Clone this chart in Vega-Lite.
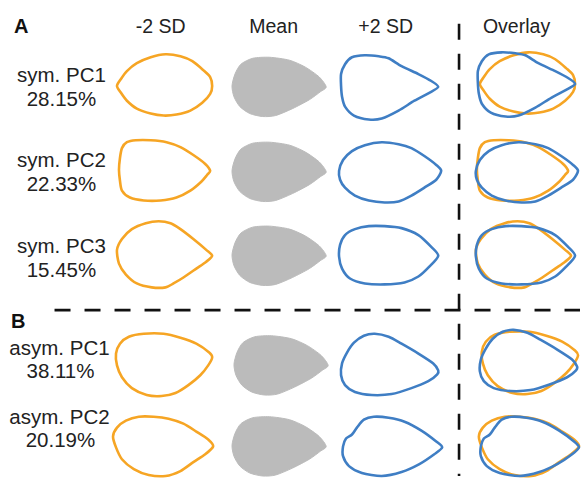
{
  "$schema": "https://vega.github.io/schema/vega-lite/v6.json",
  "width": 585,
  "height": 482,
  "autosize": {"type": "fit", "contains": "padding"},
  "padding": 0,
  "background": "white",
  "config": {"view": {"stroke": null}, "axis": {"disable": true}},
  "datasets": {
    "mean": [
      {"s":"sym. PC1","i":0,"x":329,"y":88},{"s":"sym. PC1","i":1,"x":322,"y":78},{"s":"sym. PC1","i":2,"x":308,"y":68},{"s":"sym. PC1","i":3,"x":292,"y":61},{"s":"sym. PC1","i":4,"x":272,"y":58},{"s":"sym. PC1","i":5,"x":255,"y":59},{"s":"sym. PC1","i":6,"x":243,"y":65},{"s":"sym. PC1","i":7,"x":237,"y":75},{"s":"sym. PC1","i":8,"x":234,"y":87},{"s":"sym. PC1","i":9,"x":236,"y":98},{"s":"sym. PC1","i":10,"x":242,"y":108},{"s":"sym. PC1","i":11,"x":252,"y":115},{"s":"sym. PC1","i":12,"x":265,"y":118},{"s":"sym. PC1","i":13,"x":278,"y":117},{"s":"sym. PC1","i":14,"x":295,"y":110},{"s":"sym. PC1","i":15,"x":312,"y":101},{"s":"sym. PC1","i":16,"x":323,"y":93},
      {"s":"sym. PC2","i":0,"x":329,"y":174},{"s":"sym. PC2","i":1,"x":322,"y":164},{"s":"sym. PC2","i":2,"x":308,"y":154},{"s":"sym. PC2","i":3,"x":292,"y":147},{"s":"sym. PC2","i":4,"x":272,"y":144},{"s":"sym. PC2","i":5,"x":255,"y":145},{"s":"sym. PC2","i":6,"x":243,"y":151},{"s":"sym. PC2","i":7,"x":237,"y":161},{"s":"sym. PC2","i":8,"x":234,"y":173},{"s":"sym. PC2","i":9,"x":236,"y":184},{"s":"sym. PC2","i":10,"x":242,"y":194},{"s":"sym. PC2","i":11,"x":252,"y":201},{"s":"sym. PC2","i":12,"x":265,"y":204},{"s":"sym. PC2","i":13,"x":278,"y":203},{"s":"sym. PC2","i":14,"x":295,"y":196},{"s":"sym. PC2","i":15,"x":312,"y":187},{"s":"sym. PC2","i":16,"x":323,"y":179},
      {"s":"sym. PC3","i":0,"x":329,"y":259},{"s":"sym. PC3","i":1,"x":322,"y":249},{"s":"sym. PC3","i":2,"x":308,"y":239},{"s":"sym. PC3","i":3,"x":292,"y":232},{"s":"sym. PC3","i":4,"x":272,"y":229},{"s":"sym. PC3","i":5,"x":255,"y":230},{"s":"sym. PC3","i":6,"x":243,"y":236},{"s":"sym. PC3","i":7,"x":237,"y":246},{"s":"sym. PC3","i":8,"x":234,"y":258},{"s":"sym. PC3","i":9,"x":236,"y":269},{"s":"sym. PC3","i":10,"x":242,"y":279},{"s":"sym. PC3","i":11,"x":252,"y":286},{"s":"sym. PC3","i":12,"x":265,"y":289},{"s":"sym. PC3","i":13,"x":278,"y":288},{"s":"sym. PC3","i":14,"x":295,"y":281},{"s":"sym. PC3","i":15,"x":312,"y":272},{"s":"sym. PC3","i":16,"x":323,"y":264},
      {"s":"asym. PC1","i":0,"x":331,"y":370},{"s":"asym. PC1","i":1,"x":324,"y":360},{"s":"asym. PC1","i":2,"x":310,"y":350},{"s":"asym. PC1","i":3,"x":294,"y":343},{"s":"asym. PC1","i":4,"x":274,"y":340},{"s":"asym. PC1","i":5,"x":257,"y":341},{"s":"asym. PC1","i":6,"x":245,"y":347},{"s":"asym. PC1","i":7,"x":239,"y":357},{"s":"asym. PC1","i":8,"x":236,"y":369},{"s":"asym. PC1","i":9,"x":238,"y":380},{"s":"asym. PC1","i":10,"x":244,"y":390},{"s":"asym. PC1","i":11,"x":254,"y":397},{"s":"asym. PC1","i":12,"x":267,"y":400},{"s":"asym. PC1","i":13,"x":280,"y":399},{"s":"asym. PC1","i":14,"x":297,"y":392},{"s":"asym. PC1","i":15,"x":314,"y":383},{"s":"asym. PC1","i":16,"x":325,"y":375},
      {"s":"asym. PC2","i":0,"x":329,"y":452},{"s":"asym. PC2","i":1,"x":322,"y":442},{"s":"asym. PC2","i":2,"x":308,"y":432},{"s":"asym. PC2","i":3,"x":292,"y":425},{"s":"asym. PC2","i":4,"x":272,"y":422},{"s":"asym. PC2","i":5,"x":255,"y":423},{"s":"asym. PC2","i":6,"x":243,"y":429},{"s":"asym. PC2","i":7,"x":237,"y":439},{"s":"asym. PC2","i":8,"x":234,"y":451},{"s":"asym. PC2","i":9,"x":236,"y":462},{"s":"asym. PC2","i":10,"x":242,"y":472},{"s":"asym. PC2","i":11,"x":252,"y":479},{"s":"asym. PC2","i":12,"x":265,"y":482},{"s":"asym. PC2","i":13,"x":278,"y":481},{"s":"asym. PC2","i":14,"x":295,"y":474},{"s":"asym. PC2","i":15,"x":312,"y":465},{"s":"asym. PC2","i":16,"x":323,"y":457}
    ],
    "minus": [
      {"s":"sym. PC1","i":0,"x":118,"y":87},{"s":"sym. PC1","i":1,"x":122,"y":80},{"s":"sym. PC1","i":2,"x":128,"y":72},{"s":"sym. PC1","i":3,"x":138,"y":64},{"s":"sym. PC1","i":4,"x":152,"y":58},{"s":"sym. PC1","i":5,"x":167,"y":55},{"s":"sym. PC1","i":6,"x":182,"y":57},{"s":"sym. PC1","i":7,"x":194,"y":62},{"s":"sym. PC1","i":8,"x":205,"y":71},{"s":"sym. PC1","i":9,"x":212,"y":78},{"s":"sym. PC1","i":10,"x":214,"y":87},{"s":"sym. PC1","i":11,"x":212,"y":95},{"s":"sym. PC1","i":12,"x":204,"y":104},{"s":"sym. PC1","i":13,"x":192,"y":112},{"s":"sym. PC1","i":14,"x":178,"y":116},{"s":"sym. PC1","i":15,"x":165,"y":117},{"s":"sym. PC1","i":16,"x":152,"y":115},{"s":"sym. PC1","i":17,"x":138,"y":110},{"s":"sym. PC1","i":18,"x":128,"y":102},{"s":"sym. PC1","i":19,"x":122,"y":94},
      {"s":"sym. PC2","i":0,"x":212,"y":173},{"s":"sym. PC2","i":1,"x":207,"y":166},{"s":"sym. PC2","i":2,"x":195,"y":157},{"s":"sym. PC2","i":3,"x":182,"y":149},{"s":"sym. PC2","i":4,"x":168,"y":144},{"s":"sym. PC2","i":5,"x":152,"y":142},{"s":"sym. PC2","i":6,"x":137,"y":142},{"s":"sym. PC2","i":7,"x":128,"y":144},{"s":"sym. PC2","i":8,"x":123,"y":150},{"s":"sym. PC2","i":9,"x":121,"y":160},{"s":"sym. PC2","i":10,"x":120,"y":172},{"s":"sym. PC2","i":11,"x":121,"y":183},{"s":"sym. PC2","i":12,"x":123,"y":193},{"s":"sym. PC2","i":13,"x":131,"y":200},{"s":"sym. PC2","i":14,"x":145,"y":203},{"s":"sym. PC2","i":15,"x":162,"y":203},{"s":"sym. PC2","i":16,"x":178,"y":200},{"s":"sym. PC2","i":17,"x":192,"y":193},{"s":"sym. PC2","i":18,"x":203,"y":184},{"s":"sym. PC2","i":19,"x":209,"y":177},
      {"s":"sym. PC3","i":0,"x":214,"y":259},{"s":"sym. PC3","i":1,"x":208,"y":253},{"s":"sym. PC3","i":2,"x":195,"y":242},{"s":"sym. PC3","i":3,"x":182,"y":232},{"s":"sym. PC3","i":4,"x":172,"y":226},{"s":"sym. PC3","i":5,"x":160,"y":224},{"s":"sym. PC3","i":6,"x":147,"y":226},{"s":"sym. PC3","i":7,"x":133,"y":232},{"s":"sym. PC3","i":8,"x":123,"y":242},{"s":"sym. PC3","i":9,"x":118,"y":253},{"s":"sym. PC3","i":10,"x":120,"y":267},{"s":"sym. PC3","i":11,"x":127,"y":278},{"s":"sym. PC3","i":12,"x":138,"y":287},{"s":"sym. PC3","i":13,"x":153,"y":291},{"s":"sym. PC3","i":14,"x":167,"y":291},{"s":"sym. PC3","i":15,"x":175,"y":287},{"s":"sym. PC3","i":16,"x":185,"y":281},{"s":"sym. PC3","i":17,"x":198,"y":272},{"s":"sym. PC3","i":18,"x":208,"y":265},
      {"s":"asym. PC1","i":0,"x":214,"y":362},{"s":"asym. PC1","i":1,"x":211,"y":357},{"s":"asym. PC1","i":2,"x":198,"y":348},{"s":"asym. PC1","i":3,"x":182,"y":342},{"s":"asym. PC1","i":4,"x":165,"y":338},{"s":"asym. PC1","i":5,"x":145,"y":338},{"s":"asym. PC1","i":6,"x":130,"y":341},{"s":"asym. PC1","i":7,"x":121,"y":348},{"s":"asym. PC1","i":8,"x":117,"y":358},{"s":"asym. PC1","i":9,"x":118,"y":370},{"s":"asym. PC1","i":10,"x":123,"y":382},{"s":"asym. PC1","i":11,"x":133,"y":393},{"s":"asym. PC1","i":12,"x":148,"y":400},{"s":"asym. PC1","i":13,"x":163,"y":401},{"s":"asym. PC1","i":14,"x":177,"y":398},{"s":"asym. PC1","i":15,"x":190,"y":390},{"s":"asym. PC1","i":16,"x":202,"y":380},{"s":"asym. PC1","i":17,"x":210,"y":370},
      {"s":"asym. PC2","i":0,"x":215,"y":452},{"s":"asym. PC2","i":1,"x":210,"y":445},{"s":"asym. PC2","i":2,"x":198,"y":437},{"s":"asym. PC2","i":3,"x":185,"y":429},{"s":"asym. PC2","i":4,"x":170,"y":424},{"s":"asym. PC2","i":5,"x":155,"y":422},{"s":"asym. PC2","i":6,"x":140,"y":422},{"s":"asym. PC2","i":7,"x":127,"y":426},{"s":"asym. PC2","i":8,"x":118,"y":433},{"s":"asym. PC2","i":9,"x":114,"y":442},{"s":"asym. PC2","i":10,"x":117,"y":453},{"s":"asym. PC2","i":11,"x":123,"y":465},{"s":"asym. PC2","i":12,"x":135,"y":475},{"s":"asym. PC2","i":13,"x":150,"y":481},{"s":"asym. PC2","i":14,"x":167,"y":482},{"s":"asym. PC2","i":15,"x":182,"y":477},{"s":"asym. PC2","i":16,"x":195,"y":468},{"s":"asym. PC2","i":17,"x":207,"y":460},
      {"s":"ov sym. PC1","i":0,"x":484,"y":85},{"s":"ov sym. PC1","i":1,"x":488,"y":78},{"s":"ov sym. PC1","i":2,"x":494,"y":70},{"s":"ov sym. PC1","i":3,"x":504,"y":62},{"s":"ov sym. PC1","i":4,"x":518,"y":56},{"s":"ov sym. PC1","i":5,"x":533,"y":53},{"s":"ov sym. PC1","i":6,"x":548,"y":55},{"s":"ov sym. PC1","i":7,"x":560,"y":60},{"s":"ov sym. PC1","i":8,"x":571,"y":69},{"s":"ov sym. PC1","i":9,"x":578,"y":76},{"s":"ov sym. PC1","i":10,"x":580,"y":85},{"s":"ov sym. PC1","i":11,"x":578,"y":93},{"s":"ov sym. PC1","i":12,"x":570,"y":102},{"s":"ov sym. PC1","i":13,"x":558,"y":110},{"s":"ov sym. PC1","i":14,"x":544,"y":114},{"s":"ov sym. PC1","i":15,"x":531,"y":115},{"s":"ov sym. PC1","i":16,"x":518,"y":113},{"s":"ov sym. PC1","i":17,"x":504,"y":108},{"s":"ov sym. PC1","i":18,"x":494,"y":100},{"s":"ov sym. PC1","i":19,"x":488,"y":92},
      {"s":"ov sym. PC2","i":0,"x":573,"y":173},{"s":"ov sym. PC2","i":1,"x":568,"y":166},{"s":"ov sym. PC2","i":2,"x":556,"y":157},{"s":"ov sym. PC2","i":3,"x":543,"y":149},{"s":"ov sym. PC2","i":4,"x":529,"y":144},{"s":"ov sym. PC2","i":5,"x":513,"y":142},{"s":"ov sym. PC2","i":6,"x":498,"y":142},{"s":"ov sym. PC2","i":7,"x":489,"y":144},{"s":"ov sym. PC2","i":8,"x":484,"y":150},{"s":"ov sym. PC2","i":9,"x":482,"y":160},{"s":"ov sym. PC2","i":10,"x":481,"y":172},{"s":"ov sym. PC2","i":11,"x":482,"y":183},{"s":"ov sym. PC2","i":12,"x":484,"y":193},{"s":"ov sym. PC2","i":13,"x":492,"y":200},{"s":"ov sym. PC2","i":14,"x":506,"y":203},{"s":"ov sym. PC2","i":15,"x":523,"y":203},{"s":"ov sym. PC2","i":16,"x":539,"y":200},{"s":"ov sym. PC2","i":17,"x":553,"y":193},{"s":"ov sym. PC2","i":18,"x":564,"y":184},{"s":"ov sym. PC2","i":19,"x":570,"y":177},
      {"s":"ov sym. PC3","i":0,"x":576,"y":259},{"s":"ov sym. PC3","i":1,"x":570,"y":253},{"s":"ov sym. PC3","i":2,"x":557,"y":242},{"s":"ov sym. PC3","i":3,"x":544,"y":232},{"s":"ov sym. PC3","i":4,"x":534,"y":226},{"s":"ov sym. PC3","i":5,"x":522,"y":224},{"s":"ov sym. PC3","i":6,"x":509,"y":226},{"s":"ov sym. PC3","i":7,"x":495,"y":232},{"s":"ov sym. PC3","i":8,"x":485,"y":242},{"s":"ov sym. PC3","i":9,"x":480,"y":253},{"s":"ov sym. PC3","i":10,"x":482,"y":267},{"s":"ov sym. PC3","i":11,"x":489,"y":278},{"s":"ov sym. PC3","i":12,"x":500,"y":287},{"s":"ov sym. PC3","i":13,"x":515,"y":291},{"s":"ov sym. PC3","i":14,"x":529,"y":291},{"s":"ov sym. PC3","i":15,"x":537,"y":287},{"s":"ov sym. PC3","i":16,"x":547,"y":281},{"s":"ov sym. PC3","i":17,"x":560,"y":272},{"s":"ov sym. PC3","i":18,"x":570,"y":265},
      {"s":"ov asym. PC1","i":0,"x":583,"y":360},{"s":"ov asym. PC1","i":1,"x":580,"y":355},{"s":"ov asym. PC1","i":2,"x":567,"y":346},{"s":"ov asym. PC1","i":3,"x":551,"y":340},{"s":"ov asym. PC1","i":4,"x":534,"y":336},{"s":"ov asym. PC1","i":5,"x":514,"y":336},{"s":"ov asym. PC1","i":6,"x":499,"y":339},{"s":"ov asym. PC1","i":7,"x":490,"y":346},{"s":"ov asym. PC1","i":8,"x":486,"y":356},{"s":"ov asym. PC1","i":9,"x":487,"y":368},{"s":"ov asym. PC1","i":10,"x":492,"y":380},{"s":"ov asym. PC1","i":11,"x":502,"y":391},{"s":"ov asym. PC1","i":12,"x":517,"y":398},{"s":"ov asym. PC1","i":13,"x":532,"y":399},{"s":"ov asym. PC1","i":14,"x":546,"y":396},{"s":"ov asym. PC1","i":15,"x":559,"y":388},{"s":"ov asym. PC1","i":16,"x":571,"y":378},{"s":"ov asym. PC1","i":17,"x":579,"y":368},
      {"s":"ov asym. PC2","i":0,"x":584,"y":452},{"s":"ov asym. PC2","i":1,"x":579,"y":445},{"s":"ov asym. PC2","i":2,"x":567,"y":437},{"s":"ov asym. PC2","i":3,"x":554,"y":429},{"s":"ov asym. PC2","i":4,"x":539,"y":424},{"s":"ov asym. PC2","i":5,"x":524,"y":422},{"s":"ov asym. PC2","i":6,"x":509,"y":422},{"s":"ov asym. PC2","i":7,"x":496,"y":426},{"s":"ov asym. PC2","i":8,"x":487,"y":433},{"s":"ov asym. PC2","i":9,"x":483,"y":442},{"s":"ov asym. PC2","i":10,"x":486,"y":453},{"s":"ov asym. PC2","i":11,"x":492,"y":465},{"s":"ov asym. PC2","i":12,"x":504,"y":475},{"s":"ov asym. PC2","i":13,"x":519,"y":481},{"s":"ov asym. PC2","i":14,"x":536,"y":482},{"s":"ov asym. PC2","i":15,"x":551,"y":477},{"s":"ov asym. PC2","i":16,"x":564,"y":468},{"s":"ov asym. PC2","i":17,"x":576,"y":460}
    ],
    "plus": [
      {"s":"sym. PC1","i":0,"x":442,"y":88},{"s":"sym. PC1","i":1,"x":435,"y":82},{"s":"sym. PC1","i":2,"x":422,"y":75},{"s":"sym. PC1","i":3,"x":405,"y":67},{"s":"sym. PC1","i":4,"x":392,"y":59},{"s":"sym. PC1","i":5,"x":382,"y":57},{"s":"sym. PC1","i":6,"x":368,"y":56},{"s":"sym. PC1","i":7,"x":355,"y":58},{"s":"sym. PC1","i":8,"x":348,"y":65},{"s":"sym. PC1","i":9,"x":344,"y":75},{"s":"sym. PC1","i":10,"x":344,"y":87},{"s":"sym. PC1","i":11,"x":345,"y":98},{"s":"sym. PC1","i":12,"x":348,"y":108},{"s":"sym. PC1","i":13,"x":357,"y":117},{"s":"sym. PC1","i":14,"x":372,"y":121},{"s":"sym. PC1","i":15,"x":385,"y":120},{"s":"sym. PC1","i":16,"x":402,"y":112},{"s":"sym. PC1","i":17,"x":418,"y":102},{"s":"sym. PC1","i":18,"x":433,"y":94},
      {"s":"sym. PC2","i":0,"x":445,"y":173},{"s":"sym. PC2","i":1,"x":440,"y":167},{"s":"sym. PC2","i":2,"x":428,"y":158},{"s":"sym. PC2","i":3,"x":415,"y":150},{"s":"sym. PC2","i":4,"x":402,"y":146},{"s":"sym. PC2","i":5,"x":385,"y":144},{"s":"sym. PC2","i":6,"x":368,"y":147},{"s":"sym. PC2","i":7,"x":355,"y":153},{"s":"sym. PC2","i":8,"x":346,"y":162},{"s":"sym. PC2","i":9,"x":342,"y":173},{"s":"sym. PC2","i":10,"x":343,"y":182},{"s":"sym. PC2","i":11,"x":348,"y":190},{"s":"sym. PC2","i":12,"x":358,"y":198},{"s":"sym. PC2","i":13,"x":372,"y":203},{"s":"sym. PC2","i":14,"x":388,"y":205},{"s":"sym. PC2","i":15,"x":402,"y":204},{"s":"sym. PC2","i":16,"x":415,"y":198},{"s":"sym. PC2","i":17,"x":428,"y":190},{"s":"sym. PC2","i":18,"x":440,"y":182},
      {"s":"sym. PC3","i":0,"x":442,"y":259},{"s":"sym. PC3","i":1,"x":435,"y":250},{"s":"sym. PC3","i":2,"x":422,"y":238},{"s":"sym. PC3","i":3,"x":405,"y":231},{"s":"sym. PC3","i":4,"x":388,"y":229},{"s":"sym. PC3","i":5,"x":372,"y":229},{"s":"sym. PC3","i":6,"x":358,"y":232},{"s":"sym. PC3","i":7,"x":348,"y":238},{"s":"sym. PC3","i":8,"x":343,"y":248},{"s":"sym. PC3","i":9,"x":342,"y":260},{"s":"sym. PC3","i":10,"x":345,"y":272},{"s":"sym. PC3","i":11,"x":353,"y":282},{"s":"sym. PC3","i":12,"x":368,"y":287},{"s":"sym. PC3","i":13,"x":388,"y":288},{"s":"sym. PC3","i":14,"x":408,"y":286},{"s":"sym. PC3","i":15,"x":422,"y":280},{"s":"sym. PC3","i":16,"x":433,"y":270},
      {"s":"asym. PC1","i":0,"x":442,"y":375},{"s":"asym. PC1","i":1,"x":437,"y":368},{"s":"asym. PC1","i":2,"x":422,"y":358},{"s":"asym. PC1","i":3,"x":405,"y":348},{"s":"asym. PC1","i":4,"x":392,"y":341},{"s":"asym. PC1","i":5,"x":378,"y":338},{"s":"asym. PC1","i":6,"x":367,"y":340},{"s":"asym. PC1","i":7,"x":357,"y":347},{"s":"asym. PC1","i":8,"x":350,"y":357},{"s":"asym. PC1","i":9,"x":345,"y":368},{"s":"asym. PC1","i":10,"x":344,"y":380},{"s":"asym. PC1","i":11,"x":348,"y":390},{"s":"asym. PC1","i":12,"x":358,"y":397},{"s":"asym. PC1","i":13,"x":375,"y":400},{"s":"asym. PC1","i":14,"x":395,"y":399},{"s":"asym. PC1","i":15,"x":415,"y":393},{"s":"asym. PC1","i":16,"x":432,"y":386},{"s":"asym. PC1","i":17,"x":441,"y":379},
      {"s":"asym. PC2","i":0,"x":446,"y":453},{"s":"asym. PC2","i":1,"x":440,"y":447},{"s":"asym. PC2","i":2,"x":425,"y":436},{"s":"asym. PC2","i":3,"x":408,"y":427},{"s":"asym. PC2","i":4,"x":392,"y":423},{"s":"asym. PC2","i":5,"x":377,"y":422},{"s":"asym. PC2","i":6,"x":367,"y":425},{"s":"asym. PC2","i":7,"x":360,"y":433},{"s":"asym. PC2","i":8,"x":355,"y":440},{"s":"asym. PC2","i":9,"x":349,"y":444},{"s":"asym. PC2","i":10,"x":346,"y":452},{"s":"asym. PC2","i":11,"x":346,"y":462},{"s":"asym. PC2","i":12,"x":352,"y":472},{"s":"asym. PC2","i":13,"x":365,"y":479},{"s":"asym. PC2","i":14,"x":385,"y":482},{"s":"asym. PC2","i":15,"x":405,"y":478},{"s":"asym. PC2","i":16,"x":423,"y":470},{"s":"asym. PC2","i":17,"x":438,"y":460},
      {"s":"ov sym. PC1","i":0,"x":580,"y":85},{"s":"ov sym. PC1","i":1,"x":573,"y":79},{"s":"ov sym. PC1","i":2,"x":560,"y":72},{"s":"ov sym. PC1","i":3,"x":543,"y":64},{"s":"ov sym. PC1","i":4,"x":530,"y":56},{"s":"ov sym. PC1","i":5,"x":520,"y":54},{"s":"ov sym. PC1","i":6,"x":506,"y":53},{"s":"ov sym. PC1","i":7,"x":493,"y":55},{"s":"ov sym. PC1","i":8,"x":486,"y":62},{"s":"ov sym. PC1","i":9,"x":482,"y":72},{"s":"ov sym. PC1","i":10,"x":482,"y":84},{"s":"ov sym. PC1","i":11,"x":483,"y":95},{"s":"ov sym. PC1","i":12,"x":486,"y":105},{"s":"ov sym. PC1","i":13,"x":495,"y":114},{"s":"ov sym. PC1","i":14,"x":510,"y":118},{"s":"ov sym. PC1","i":15,"x":523,"y":117},{"s":"ov sym. PC1","i":16,"x":540,"y":109},{"s":"ov sym. PC1","i":17,"x":556,"y":99},{"s":"ov sym. PC1","i":18,"x":571,"y":91},
      {"s":"ov sym. PC2","i":0,"x":583,"y":173},{"s":"ov sym. PC2","i":1,"x":578,"y":167},{"s":"ov sym. PC2","i":2,"x":566,"y":158},{"s":"ov sym. PC2","i":3,"x":553,"y":150},{"s":"ov sym. PC2","i":4,"x":540,"y":146},{"s":"ov sym. PC2","i":5,"x":523,"y":144},{"s":"ov sym. PC2","i":6,"x":506,"y":147},{"s":"ov sym. PC2","i":7,"x":493,"y":153},{"s":"ov sym. PC2","i":8,"x":484,"y":162},{"s":"ov sym. PC2","i":9,"x":480,"y":173},{"s":"ov sym. PC2","i":10,"x":481,"y":182},{"s":"ov sym. PC2","i":11,"x":486,"y":190},{"s":"ov sym. PC2","i":12,"x":496,"y":198},{"s":"ov sym. PC2","i":13,"x":510,"y":203},{"s":"ov sym. PC2","i":14,"x":526,"y":205},{"s":"ov sym. PC2","i":15,"x":540,"y":204},{"s":"ov sym. PC2","i":16,"x":553,"y":198},{"s":"ov sym. PC2","i":17,"x":566,"y":190},{"s":"ov sym. PC2","i":18,"x":578,"y":182},
      {"s":"ov sym. PC3","i":0,"x":580,"y":259},{"s":"ov sym. PC3","i":1,"x":573,"y":250},{"s":"ov sym. PC3","i":2,"x":560,"y":238},{"s":"ov sym. PC3","i":3,"x":543,"y":231},{"s":"ov sym. PC3","i":4,"x":526,"y":229},{"s":"ov sym. PC3","i":5,"x":510,"y":229},{"s":"ov sym. PC3","i":6,"x":496,"y":232},{"s":"ov sym. PC3","i":7,"x":486,"y":238},{"s":"ov sym. PC3","i":8,"x":481,"y":248},{"s":"ov sym. PC3","i":9,"x":480,"y":260},{"s":"ov sym. PC3","i":10,"x":483,"y":272},{"s":"ov sym. PC3","i":11,"x":491,"y":282},{"s":"ov sym. PC3","i":12,"x":506,"y":287},{"s":"ov sym. PC3","i":13,"x":526,"y":288},{"s":"ov sym. PC3","i":14,"x":546,"y":286},{"s":"ov sym. PC3","i":15,"x":560,"y":280},{"s":"ov sym. PC3","i":16,"x":571,"y":270},
      {"s":"ov asym. PC1","i":0,"x":582,"y":371},{"s":"ov asym. PC1","i":1,"x":577,"y":364},{"s":"ov asym. PC1","i":2,"x":562,"y":354},{"s":"ov asym. PC1","i":3,"x":545,"y":344},{"s":"ov asym. PC1","i":4,"x":532,"y":337},{"s":"ov asym. PC1","i":5,"x":518,"y":334},{"s":"ov asym. PC1","i":6,"x":507,"y":336},{"s":"ov asym. PC1","i":7,"x":497,"y":343},{"s":"ov asym. PC1","i":8,"x":490,"y":353},{"s":"ov asym. PC1","i":9,"x":485,"y":364},{"s":"ov asym. PC1","i":10,"x":484,"y":376},{"s":"ov asym. PC1","i":11,"x":488,"y":386},{"s":"ov asym. PC1","i":12,"x":498,"y":393},{"s":"ov asym. PC1","i":13,"x":515,"y":396},{"s":"ov asym. PC1","i":14,"x":535,"y":395},{"s":"ov asym. PC1","i":15,"x":555,"y":389},{"s":"ov asym. PC1","i":16,"x":572,"y":382},{"s":"ov asym. PC1","i":17,"x":581,"y":375},
      {"s":"ov asym. PC2","i":0,"x":584,"y":453},{"s":"ov asym. PC2","i":1,"x":579,"y":447},{"s":"ov asym. PC2","i":2,"x":564,"y":436},{"s":"ov asym. PC2","i":3,"x":547,"y":427},{"s":"ov asym. PC2","i":4,"x":531,"y":423},{"s":"ov asym. PC2","i":5,"x":516,"y":422},{"s":"ov asym. PC2","i":6,"x":506,"y":425},{"s":"ov asym. PC2","i":7,"x":499,"y":433},{"s":"ov asym. PC2","i":8,"x":494,"y":440},{"s":"ov asym. PC2","i":9,"x":488,"y":444},{"s":"ov asym. PC2","i":10,"x":485,"y":452},{"s":"ov asym. PC2","i":11,"x":485,"y":462},{"s":"ov asym. PC2","i":12,"x":491,"y":472},{"s":"ov asym. PC2","i":13,"x":504,"y":479},{"s":"ov asym. PC2","i":14,"x":524,"y":482},{"s":"ov asym. PC2","i":15,"x":544,"y":478},{"s":"ov asym. PC2","i":16,"x":562,"y":470},{"s":"ov asym. PC2","i":17,"x":577,"y":460}
    ],
    "dividers": [
      {"x":463,"x2":463,"y":24,"y2":482},
      {"x":55,"x2":585,"y":314,"y2":314}
    ],
    "headers": [
      {"t":"-2 SD","x":162,"y":33},
      {"t":"Mean","x":276,"y":33},
      {"t":"+2 SD","x":389,"y":33},
      {"t":"Overlay","x":521,"y":33}
    ],
    "panels": [
      {"t":"A","x":14,"y":33},
      {"t":"B","x":11,"y":332}
    ],
    "rowlabels": [
      {"t":"sym. PC1","x":62,"y":83},{"t":"28.15%","x":62,"y":107},
      {"t":"sym. PC2","x":62,"y":169},{"t":"22.33%","x":62,"y":193},
      {"t":"sym. PC3","x":62,"y":256},{"t":"15.45%","x":62,"y":280},
      {"t":"asym. PC1","x":60,"y":359},{"t":"38.11%","x":61,"y":383},
      {"t":"asym. PC2","x":60,"y":429},{"t":"20.19%","x":61,"y":453}
    ]
  },
  "layer": [
    {
      "data": {"name": "mean"},
      "mark": {"type": "line", "interpolate": "cardinal-closed", "tension": 0.25, "fill": "#BBBBBB", "stroke": "#BBBBBB", "strokeWidth": 1},
      "encoding": {
        "x": {"field": "x", "type": "quantitative", "scale": {"domain": [0, 585], "nice": false, "zero": false}, "axis": null},
        "y": {"field": "y", "type": "quantitative", "scale": {"domain": [0, 482], "nice": false, "zero": false, "reverse": true}, "axis": null},
        "detail": {"field": "s"},
        "order": {"field": "i", "type": "quantitative"}
      }
    },
    {
      "data": {"name": "minus"},
      "mark": {"type": "line", "interpolate": "cardinal-closed", "tension": 0.25, "stroke": "#F6A524", "strokeWidth": 2.6},
      "encoding": {
        "x": {"field": "x", "type": "quantitative", "axis": null},
        "y": {"field": "y", "type": "quantitative", "axis": null},
        "detail": {"field": "s"},
        "order": {"field": "i", "type": "quantitative"}
      }
    },
    {
      "data": {"name": "plus"},
      "mark": {"type": "line", "interpolate": "cardinal-closed", "tension": 0.25, "stroke": "#3F7EC4", "strokeWidth": 2.6},
      "encoding": {
        "x": {"field": "x", "type": "quantitative", "axis": null},
        "y": {"field": "y", "type": "quantitative", "axis": null},
        "detail": {"field": "s"},
        "order": {"field": "i", "type": "quantitative"}
      }
    },
    {
      "data": {"name": "dividers"},
      "mark": {"type": "rule", "stroke": "#111111", "strokeWidth": 2.6, "strokeDash": [16, 14]},
      "encoding": {
        "x": {"field": "x", "type": "quantitative", "axis": null},
        "x2": {"field": "x2"},
        "y": {"field": "y", "type": "quantitative", "axis": null},
        "y2": {"field": "y2"}
      }
    },
    {
      "data": {"name": "headers"},
      "mark": {"type": "text", "font": "Liberation Sans", "fontSize": 19.5, "align": "center", "baseline": "alphabetic", "color": "#222222"},
      "encoding": {
        "x": {"field": "x", "type": "quantitative", "axis": null},
        "y": {"field": "y", "type": "quantitative", "axis": null},
        "text": {"field": "t"}
      }
    },
    {
      "data": {"name": "panels"},
      "mark": {"type": "text", "font": "Liberation Sans", "fontSize": 20, "fontWeight": "bold", "align": "left", "baseline": "alphabetic", "color": "#111111"},
      "encoding": {
        "x": {"field": "x", "type": "quantitative", "axis": null},
        "y": {"field": "y", "type": "quantitative", "axis": null},
        "text": {"field": "t"}
      }
    },
    {
      "data": {"name": "rowlabels"},
      "mark": {"type": "text", "font": "Liberation Sans", "fontSize": 20.5, "align": "center", "baseline": "alphabetic", "color": "#222222"},
      "encoding": {
        "x": {"field": "x", "type": "quantitative", "axis": null},
        "y": {"field": "y", "type": "quantitative", "axis": null},
        "text": {"field": "t"}
      }
    }
  ]
}
